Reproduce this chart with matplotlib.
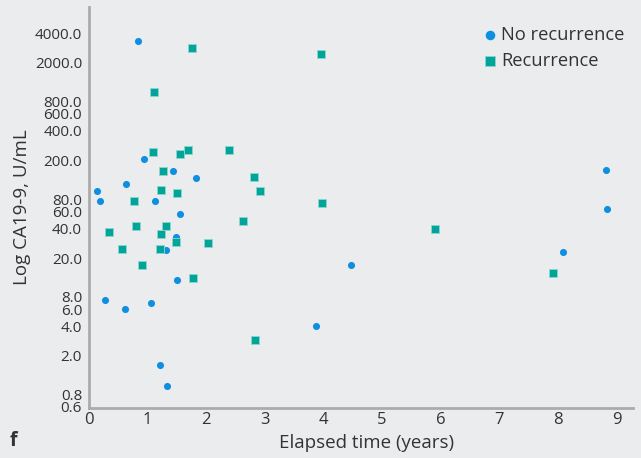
import matplotlib
matplotlib.use("Agg")
import matplotlib.pyplot as plt

# No recurrence (blue circles)
no_rec_x = [0.83, 0.94, 1.43, 1.83, 0.63, 0.14, 0.19, 1.13, 1.56, 1.48, 1.32,
            1.50, 0.27, 0.62, 1.05, 1.22, 1.33, 4.47, 3.87, 8.82, 8.84, 8.09]
no_rec_y = [3300, 205, 155, 132, 114, 98, 76, 76, 56.6, 33.2, 23.9,
            11.9, 7.5, 6.0, 7.0, 1.6, 0.99, 16.9, 4.0, 158, 64, 23]

# Recurrence (teal squares)
rec_x = [1.75, 1.11, 1.09, 1.55, 1.69, 2.39, 1.27, 1.23, 1.50, 0.76,
         0.81, 1.31, 0.34, 1.23, 1.48, 2.03, 0.56, 1.22, 0.90, 1.77, 2.63,
         3.95, 2.81, 2.92, 3.97, 2.83, 5.91, 7.92]
rec_y = [2810, 1000, 244, 232, 255, 257, 157, 99.5, 92, 77,
         43, 43, 37.3, 35.6, 29.3, 28.8, 24.9, 24.9, 17.1, 12.5, 48.4,
         2440, 135, 98, 74, 2.88, 39.2, 14.1]

y_ticks = [0.6, 0.8, 2.0, 4.0, 6.0, 8.0, 20.0, 40.0, 60.0, 80.0,
           200.0, 400.0, 600.0, 800.0, 2000.0, 4000.0]
x_ticks = [0, 1, 2, 3, 4, 5, 6, 7, 8, 9]

bg = '#ebeced'
blue = '#0f8fe0'
teal = '#00a499'
txt = '#333333'

plt.rcParams['font.family'] = ['Open Sans', 'DejaVu Sans']

fig = plt.figure(figsize=(6.41, 4.58), dpi=100, facecolor=bg)
ax = fig.add_axes([0.1388, 0.1092, 0.8487, 0.8755], facecolor=bg)

ax.scatter(no_rec_x, no_rec_y, s=26, marker='o', color=blue, lw=0,
           label='No recurrence', zorder=3)
ax.scatter(rec_x, rec_y, s=34, marker='s', color=teal, edgecolor='#8fd6cf',
           lw=0.6, label='Recurrence', zorder=3)

ax.set_yscale('log')
ax.set_ylim(0.585, 7400)
ax.set_xlim(0, 9.28)
ax.set_yticks(y_ticks)
ax.set_yticklabels(['%.1f' % v for v in y_ticks])
ax.minorticks_off()
ax.set_xticks(x_ticks)
ax.tick_params(axis='y', length=0, labelsize=11, colors=txt, pad=5)
ax.tick_params(axis='x', length=0, labelsize=12, colors=txt, pad=3)

for s in ['top', 'right']:
    ax.spines[s].set_visible(False)
for s in ['left', 'bottom']:
    ax.spines[s].set_color('#ababab')
    ax.spines[s].set_linewidth(2)

ax.set_xlabel('Elapsed time (years)', fontsize=13.5, color=txt, labelpad=1)
ax.xaxis.set_label_coords(0.511, -0.065)
ax.set_ylabel('Log CA19-9, U/mL', fontsize=13.5, color=txt, labelpad=3)

leg = ax.legend(loc='upper right', frameon=False, fontsize=13.2,
                handletextpad=0.1, borderaxespad=0.2, labelspacing=0.42,
                handlelength=1.0, markerscale=1.35, bbox_to_anchor=(1.005, 0.98))
for t in leg.get_texts():
    t.set_color(txt)

fig.text(0.015, 0.027, 'f', fontsize=14, fontweight='bold', color=txt)

fig.savefig('out.png', dpi=100, facecolor=bg)
